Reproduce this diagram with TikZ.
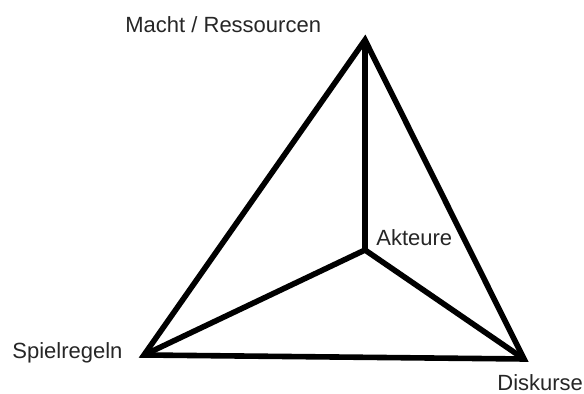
\documentclass[tikz,border=0pt]{standalone}
\usepackage{fontspec}
\setmainfont{Liberation Sans}
\usetikzlibrary{positioning}

\begin{document}
\begin{tikzpicture}[
    x=0.5pt, y=-0.5pt,
    edge/.style={draw=black, line width=2.8pt, line join=miter},
    lbl/.style={inner sep=0pt, anchor=base west, font=\fontsize{11}{13}\selectfont, text=black!85}
]
\useasboundingbox (0,0) rectangle (584,394);

% Eckpunkte
\coordinate (macht) at (365,40);
\coordinate (regeln) at (144,355);
\coordinate (diskurse) at (524,359);
\coordinate (akteure) at (365,250);

% Beschriftungen
\node[lbl] (tMacht) at (125,33) {Macht / Ressourcen};
\node[lbl] (tAkteure) at (376,246) {Akteure};
\node[lbl] (tRegeln) at (12,359) {Spielregeln};
\node[lbl] (tDiskurse) at (497,391) {Diskurse};

\draw[edge] (macht) -- (regeln) -- (diskurse) -- cycle;
\draw[edge] (macht) -- (akteure);
\draw[edge] (regeln) -- (akteure);
\draw[edge] (akteure) -- (diskurse);
\end{tikzpicture}
\end{document}
